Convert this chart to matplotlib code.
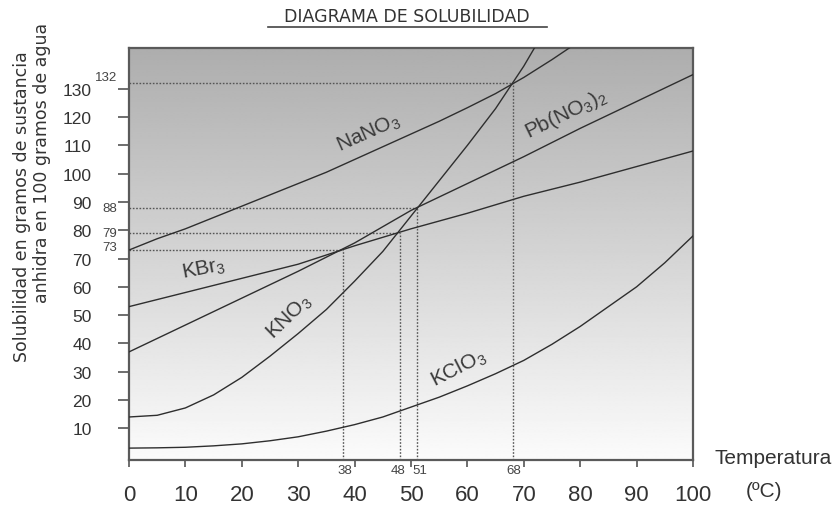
import numpy as np
import matplotlib
matplotlib.use("Agg")
import matplotlib.pyplot as plt
import matplotlib.transforms as mtransforms

plt.rcParams['font.family'] = ['Liberation Sans', 'DejaVu Sans']
plt.rcParams['mathtext.default'] = 'regular'

# =========================
# data
# =========================

t5 = [0, 5, 10, 15, 20, 25, 30, 35, 40, 45, 50, 55, 60, 65, 70, 75, 80, 85, 90, 95, 100]
t10 = [0, 10, 20, 30, 40, 50, 60, 70, 80, 90, 100]

nano3 = [73, 77, 80.5, 84.5, 88.5, 92.5, 96.5, 100.5, 105, 109.5, 114, 118.5, 123.3,
         128.3, 134, 140.3, 147, 154, 161.5, 169.5, 178]
kno3_t = [0, 5, 10, 15, 20, 25, 30, 35, 40, 45, 50, 55, 60, 65, 70, 75]
kno3 = [14, 14.6, 17.2, 21.8, 28, 35.5, 43.5, 52, 62, 72.5, 85, 97.5, 110, 123, 138, 155]
pbno32 = [37, 46.5, 56, 65.5, 75.5, 87, 96.5, 106, 116, 125.5, 135]
kbr = [53, 58, 63, 68, 74.5, 80.5, 86, 92, 97, 102.5, 108]
kclo3 = [3, 3.1, 3.3, 3.8, 4.5, 5.6, 7, 9, 11.3, 14, 17.5, 21, 25, 29.3, 34, 39.7,
         46, 53, 60, 68.5, 78]

mark_temp = [38, 48, 51, 68]
mark_sol = [73, 79, 88, 132]

xticks = [0, 10, 20, 30, 40, 50, 60, 70, 80, 90, 100]
yticks = [10, 20, 30, 40, 50, 60, 70, 80, 90, 100, 110, 120, 130]

YLO, YHI = -1.2, 144.4

# =========================
# figure
# =========================

fig = plt.figure(figsize=(8.37, 5.06), dpi=100)
ax = fig.add_axes([129/837, 45/506, 564/837, 412/506])

# grey gradient background
grad = np.linspace(0.68, 0.985, 256)[:, None]
ax.imshow(grad, extent=[0, 100, YLO, YHI], aspect='auto', cmap='gray',
          vmin=0, vmax=1, zorder=0, interpolation='bilinear')

line_kw = dict(color='#2e2e2e', lw=1.0, zorder=3)
ax.plot(t5, nano3, **line_kw)
ax.plot(kno3_t, kno3, **line_kw)
ax.plot(t10, pbno32, **line_kw)
ax.plot(t10, kbr, **line_kw)
ax.plot(t5, kclo3, **line_kw)

# dotted guide lines
dot_kw = dict(color='#555555', lw=1.0, ls=(0, (1.2, 1.2)), zorder=2)
for t, s in zip(mark_temp, mark_sol):
    ax.plot([0, t], [s, s], **dot_kw)
    ax.plot([t, t], [YLO, s], **dot_kw)

ax.set_xlim(0, 100)
ax.set_ylim(YLO, YHI)

ax.set_xticks(xticks)
ax.set_xticklabels([str(v) for v in xticks])
ax.set_yticks(yticks)
ax.set_yticklabels([str(v) for v in yticks])

ax.tick_params(axis='x', length=5, width=1.2, color='#555555', pad=12,
               labelsize=16, labelcolor='#333333')
ax.tick_params(axis='y', length=8, width=1.2, color='#555555', pad=19,
               labelsize=12.5, labelcolor='#333333')

for sp in ax.spines.values():
    sp.set_color('#5a5a5a')
    sp.set_linewidth(1.6)

# small marker labels
ytrans = mtransforms.blended_transform_factory(ax.transAxes, ax.transData)
ylab_pos = [74, 79, 88, 134]
for s, yp in zip(mark_sol, ylab_pos):
    ax.text(-0.021, yp, str(s), transform=ytrans, ha='right', va='center',
            fontsize=9.5, color='#444444')

xtrans = mtransforms.blended_transform_factory(ax.transData, ax.transAxes)
xlab_off = [0.3, -0.3, 0.6, 0.3]
for t, o in zip(mark_temp, xlab_off):
    ax.text(t + o, -0.024, str(t), transform=xtrans, ha='center', va='center',
            fontsize=9.5, color='#444444')

# curve names
lab_kw = dict(fontsize=15, color='#3a3a3a', ha='center', va='center', zorder=4)
ax.text(42.4, 114.5, 'NaNO$_3$', rotation=24, **lab_kw)
ax.text(77.5, 121.5, 'Pb(NO$_3$)$_2$', rotation=26, **lab_kw)
ax.text(13.2, 66.5, 'KBr$_3$', rotation=11, **lab_kw)
ax.text(28.5, 49.5, 'KNO$_3$', rotation=44, **lab_kw)
ax.text(58.5, 31.5, 'KClO$_3$', rotation=27, **lab_kw)

# axis titles
fig.text(715/837, 1 - 459/506, 'Temperatura', fontsize=15, color='#333333',
         ha='left', va='center')
fig.text(764/837, 1 - 492/506, '(ºC)', fontsize=15, color='#333333',
         ha='center', va='center')

fig.text(22/837, 1 - 207/506, 'Solubilidad en gramos de sustancia',
         rotation=90, fontsize=12.5, family='DejaVu Sans', color='#333333',
         ha='center', va='center')
fig.text(42/837, 1 - 163/506, 'anhidra en 100 gramos de agua',
         rotation=90, fontsize=12.5, family='DejaVu Sans', color='#333333',
         ha='center', va='center')

# underlined title
fig.text(407/837, 1 - 17/506, 'DIAGRAMA DE SOLUBILIDAD', fontsize=12.5,
         family='DejaVu Sans', color='#333333', ha='center', va='center')
fig.add_artist(plt.Line2D([268/837, 547/837], [1 - 28/506, 1 - 28/506],
                          color='#444444', lw=1.2))

fig.savefig("out.png", dpi=100)
